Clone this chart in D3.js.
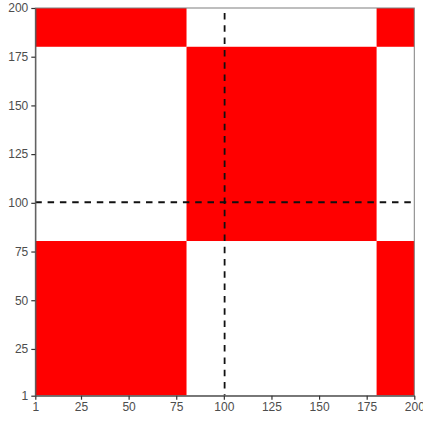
<!DOCTYPE html>
<html>
<head>
<meta charset="utf-8">
<script src="https://cdn.jsdelivr.net/npm/d3@7"></script>
<style>
body{margin:0;background:#fff;}
svg{display:block;}
</style>
</head>
<body>
<svg id="chart" width="423" height="423"></svg>
<script>
// Data
const xBands = [1, 80.4, 180.2, 200];   // band edges along x
const yBands = [1, 80.4, 180.1, 200];   // band edges along y
const cellFilled = [                    // [xBandIndex, yBandIndex, filled]
  [0,0,1],[1,0,0],[2,0,1],
  [0,1,0],[1,1,1],[2,1,0],
  [0,2,1],[1,2,0],[2,2,1]
];
const vLine = [100.4];
const hLine = [100.3];
const xTicks = [1, 25, 50, 75, 100, 125, 150, 175, 200];
const yTicks = [1, 25, 50, 75, 100, 125, 150, 175, 200];

const svg = d3.select("#chart");
const margin = {left:35.3, right:423-414.3, top:8, bottom:423-395.7};
const W = 423, H = 423;
const x = d3.scaleLinear().domain([1,200]).range([margin.left, W-margin.right]);
const y = d3.scaleLinear().domain([1,200]).range([H-margin.bottom, margin.top]);

const g = svg.append("g");
g.selectAll("rect.cell").data(cellFilled.filter(d=>d[2]===1)).join("rect")
  .attr("class","cell")
  .attr("x", d=>x(xBands[d[0]]))
  .attr("width", d=>x(xBands[d[0]+1])-x(xBands[d[0]]))
  .attr("y", d=>y(yBands[d[1]+1]))
  .attr("height", d=>y(yBands[d[1]])-y(yBands[d[1]+1]))
  .attr("fill","#ff0000");

g.selectAll("line.v").data(vLine).join("line")
  .attr("x1",d=>x(d)).attr("x2",d=>x(d))
  .attr("y1",y(200)+5).attr("y2",y(1))
  .attr("stroke","#111").attr("stroke-width",1.8).attr("stroke-dasharray","6.5,5.8");
g.selectAll("line.h").data(hLine).join("line")
  .attr("y1",d=>y(d)).attr("y2",d=>y(d))
  .attr("x1",x(1)).attr("x2",x(200))
  .attr("stroke","#111").attr("stroke-width",1.8).attr("stroke-dasharray","6.5,5.8");

// panel border (top, right)
svg.append("rect")
  .attr("x",x(1)).attr("y",y(200)).attr("width",x(200)-x(1)).attr("height",y(1)-y(200))
  .attr("fill","none").attr("stroke","#7f7f7f").attr("stroke-width",1);

const xAxis = svg.append("g").attr("transform",`translate(0,${y(1)})`)
  .call(d3.axisBottom(x).tickValues(xTicks).tickSize(4).tickPadding(3).tickSizeOuter(0));
const yAxis = svg.append("g").attr("transform",`translate(${x(1)},0)`)
  .call(d3.axisLeft(y).tickValues(yTicks).tickSize(4).tickPadding(3).tickSizeOuter(0));
[xAxis,yAxis].forEach(a=>{
  a.select(".domain").attr("stroke","#555").attr("stroke-width",1.2);
  a.selectAll(".tick line").attr("stroke","#333").attr("stroke-width",1.2);
  a.selectAll(".tick text").attr("fill","#4d4d4d").style("font-family","Liberation Sans, Arial, sans-serif").style("font-size","12px");
});
</script>
</body>
</html>
